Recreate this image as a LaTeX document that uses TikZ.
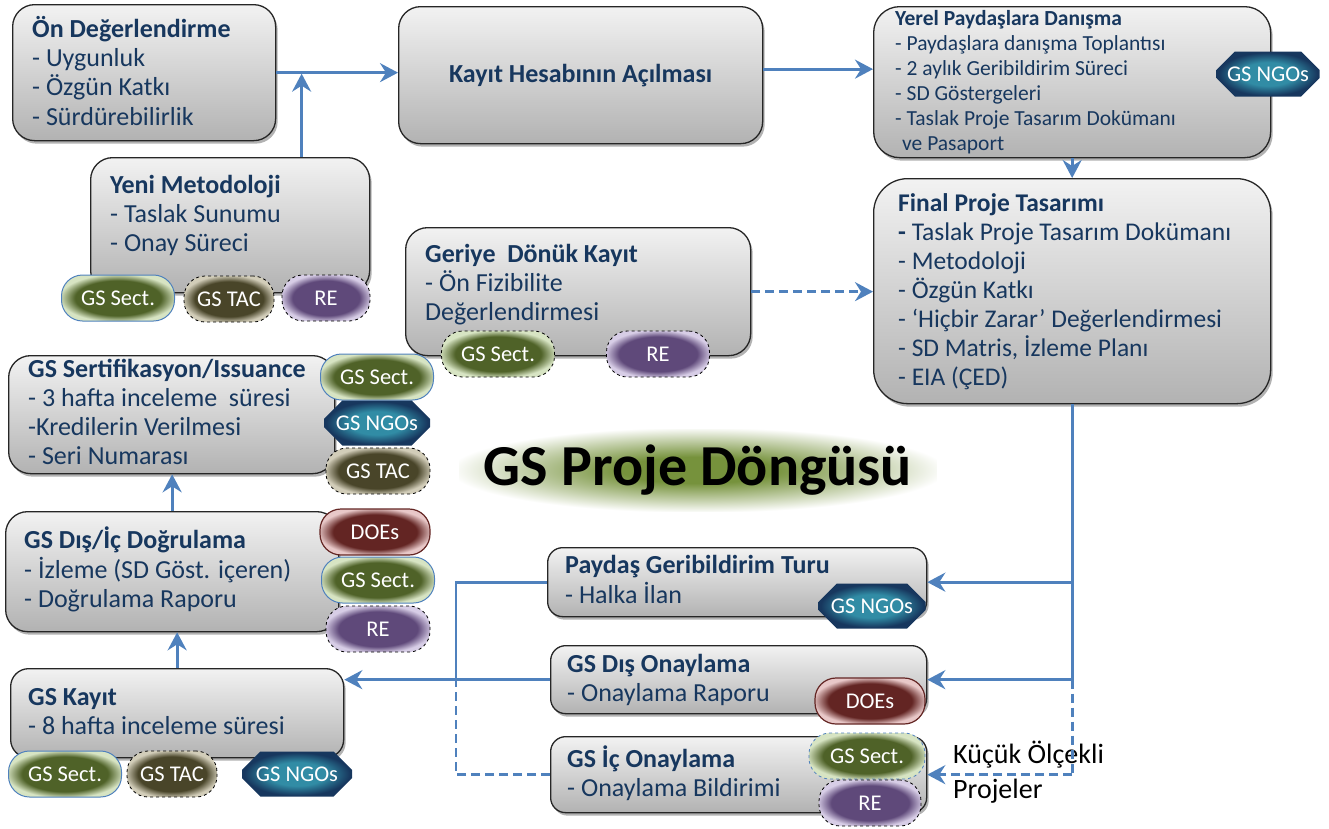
\documentclass[tikz,border=0pt]{standalone}
\usepackage{fontspec}
\setmainfont{Carlito}
\usetikzlibrary{arrows.meta,shadows,shapes.misc,calc}
\definecolor{navy}{RGB}{23,55,94}
\definecolor{arrblue}{RGB}{79,129,189}
\definecolor{boxtop}{RGB}{242,242,242}
\definecolor{boxbot}{RGB}{178,178,178}
\definecolor{sectc}{RGB}{79,98,40}
\definecolor{sectl}{RGB}{215,228,195}
\definecolor{tacc}{RGB}{73,69,41}
\definecolor{tacl}{RGB}{210,205,185}
\definecolor{rec}{RGB}{95,73,122}
\definecolor{rel}{RGB}{215,205,230}
\definecolor{doec}{RGB}{99,37,35}
\definecolor{doel}{RGB}{232,200,200}
\definecolor{ngoc}{RGB}{49,140,165}
\definecolor{ngod}{RGB}{23,55,94}
\definecolor{glowc}{RGB}{118,146,60}
\pgfdeclareradialshading{sectsh}{\pgfpoint{0bp}{0bp}}{color(0bp)=(sectc); color(19bp)=(sectc); color(26bp)=(sectl); color(50bp)=(sectl)}
\pgfdeclareradialshading{tacsh}{\pgfpoint{0bp}{0bp}}{color(0bp)=(tacc); color(19bp)=(tacc); color(26bp)=(tacl); color(50bp)=(tacl)}
\pgfdeclareradialshading{resh}{\pgfpoint{0bp}{0bp}}{color(0bp)=(rec); color(19bp)=(rec); color(26bp)=(rel); color(50bp)=(rel)}
\pgfdeclareradialshading{doesh}{\pgfpoint{0bp}{0bp}}{color(0bp)=(doec); color(19bp)=(doec); color(26bp)=(doel); color(50bp)=(doel)}
\pgfdeclareradialshading{ngosh}{\pgfpoint{0bp}{0bp}}{color(0bp)=(ngoc); color(13bp)=(ngoc); color(24bp)=(ngod); color(50bp)=(ngod)}
\pgfdeclareradialshading{glowsh}{\pgfpoint{0bp}{0bp}}{color(0bp)=(glowc); color(8bp)=(glowc); color(19bp)=(glowc!40!white); color(26bp)=(white); color(50bp)=(white)}
\newcommand\lns[1]{\begin{tabular}[t]{@{}l@{}}#1\end{tabular}}
\tikzset{
  gbox/.style={draw=black!85, line width=1.3pt, rounded corners=22pt,
    top color=boxtop, bottom color=boxbot, anchor=north west, inner sep=0pt,
    drop shadow={shadow xshift=2pt, shadow yshift=-3pt, opacity=0.3, fill=black}},
  txt/.style={anchor=base west, inner sep=0pt, text=navy, font=\fontsize{26}{29.3}\selectfont},
  badge/.style={rounded corners=21pt, text=white, font=\fontsize{22.5}{25}\selectfont,
    inner sep=0pt, minimum height=46pt, shade},
  sect/.style={badge, shading=sectsh, minimum width=113pt, draw=arrblue, line width=1pt},
  sectd/.style={badge, shading=sectsh, minimum width=113pt, draw=black, dashed, line width=0.8pt},
  sectb/.style={badge, shading=sectsh, minimum width=116pt, draw=arrblue, dashed, line width=0.8pt},
  tac/.style={badge, shading=tacsh, minimum width=90pt, draw=black, dashed, line width=0.8pt},
  rebadge/.style={badge, shading=resh, minimum width=95pt, draw=black, dashed, line width=0.8pt},
  doe/.style={badge, shading=doesh, minimum width=110pt, draw=doec, line width=1.2pt},
  ngo/.style={chamfered rectangle, chamfered rectangle xsep=12pt, chamfered rectangle ysep=11pt,
    text=white, font=\fontsize{22.5}{25}\selectfont, inner sep=0pt, minimum width=106pt,
    minimum height=45pt, shade, shading=ngosh},
  arr/.style={draw=arrblue, line width=2.8pt, -{Stealth[length=18pt,width=19pt,inset=6pt]}},
  lnk/.style={draw=arrblue, line width=2.8pt},
  dlnk/.style={draw=arrblue, line width=2.8pt, dash pattern=on 9pt off 5pt},
}
\begin{document}
\begin{tikzpicture}[x=1pt,y=-1pt]
\useasboundingbox (0,0) rectangle (1329,828);
% boxes
\node[gbox, minimum width=263pt, minimum height=136pt] (b1) at (12,4) {};
\node[gbox, minimum width=364pt, minimum height=137pt] (b2) at (398,6) {};
\node[gbox, minimum width=397pt, minimum height=151pt, rounded corners=26pt] (b3) at (873,6) {};
\node[gbox, minimum width=397pt, minimum height=225pt, rounded corners=34pt] (b4) at (873,178) {};
\node[gbox, minimum width=279pt, minimum height=135pt] (b5) at (90,157) {};
\node[gbox, minimum width=345pt, minimum height=128pt] (b6) at (405,227) {};
\node[gbox, minimum width=326pt, minimum height=118pt] (b7) at (8,355) {};
\node[gbox, minimum width=333pt, minimum height=120pt] (b8) at (5,511) {};
\node[gbox, minimum width=333pt, minimum height=89pt, rounded corners=18pt] (b9) at (10,668) {};
\node[gbox, minimum width=379pt, minimum height=69pt, rounded corners=15pt] (b10) at (547,547) {};
\node[gbox, minimum width=376pt, minimum height=68pt, rounded corners=15pt] (b11) at (550,645) {};
\node[gbox, minimum width=376pt, minimum height=76pt, rounded corners=15pt] (b12) at (550,736) {};
% title
\node[shade, shading=glowsh, minimum width=477pt, minimum height=82pt, inner sep=0pt,
  font=\fontsize{58}{64}\selectfont\bfseries, text=black] (title) at (698,470) {GS Proje Döngüsü};
% texts
\node[txt] (t1) at (32,37) {\lns{\textbf{Ön Değerlendirme}\\- Uygunluk\\- Özgün Katkı\\- Sürdürebilirlik}};
\node[txt, anchor=center, font=\fontsize{26}{29}\selectfont\bfseries] (t2) at (b2.center) {Kayıt Hesabının Açılması};
\node[txt, font=\fontsize{21.5}{25}\selectfont] (t3) at (895,25) {\lns{\textbf{Yerel Paydaşlara Danışma}\\- Paydaşlara danışma Toplantısı\\- 2 aylık Geribildirim Süreci\\- SD Göstergeleri\\- Taslak Proje Tasarım Dokümanı\\\hspace{7pt}ve Pasaport}};
\node[txt, font=\fontsize{25.5}{29}\selectfont] (t4) at (898,211) {\lns{\textbf{Final Proje Tasarımı}\\\textbf{-} Taslak Proje Tasarım Dokümanı\\- Metodoloji\\- Özgün Katkı\\- ‘Hiçbir Zarar’ Değerlendirmesi\\- SD Matris, İzleme Planı\\- EIA (ÇED)}};
\node[txt] (t5) at (110,193) {\lns{\textbf{Yeni Metodoloji}\\- Taslak Sunumu\\- Onay Süreci}};
\node[txt] (t6) at (425,262) {\lns{\textbf{Geriye\ \ Dönük Kayıt}\\- Ön Fizibilite\\Değerlendirmesi}};
\node[txt] (t7) at (28,377) {\lns{\textbf{GS Sertifikasyon/Issuance}\\- 3 hafta inceleme\ \ süresi\\-Kredilerin Verilmesi\\- Seri Numarası}};
\node[txt] (t8) at (24,548) {\lns{\textbf{GS Dış/İç Doğrulama}\\- İzleme (SD Göst. içeren)\\- Doğrulama Raporu}};
\node[txt] (t9) at (28,705) {\lns{\textbf{GS Kayıt}\\- 8 hafta inceleme süresi}};
\node[txt] (t10) at (565,573) {\lns{\textbf{Paydaş Geribildirim Turu}\\- Halka İlan}};
\node[txt] (t11) at (567,672) {\lns{\textbf{GS Dış Onaylama}\\- Onaylama Raporu}};
\node[txt] (t12) at (567,767) {\lns{\textbf{GS İç Onaylama}\\- Onaylama Bildirimi}};
\node[txt, text=black, font=\fontsize{28}{35}\selectfont] (t13) at (953,763) {\lns{Küçük Ölçekli\\Projeler}};
% connectors
\coordinate (yj) at ($(b5.north west)!0.755!(b5.north east)$);
\coordinate (lj) at (456,679);
\draw[arr] (b1.east) -- (b1.east -| b2.west);
\draw[arr, shorten >=1pt] (yj) -- (yj |- b1.east);
\draw[arr] ($(b2.east)+(0,-6)$) -- ($(b3.west)+(0,-13)$);
\draw[arr] (b3.south) -- (b4.north);
\draw[arr, dash pattern=on 9pt off 5pt] (b6.east) -- (b6.east -| b4.west);
\draw[lnk] (b4.south) -- (b4.south |- b11.east);
\draw[arr] (b4.south |- b10.east) -- (b10.east);
\draw[arr] (b4.south |- b11.east) -- (b11.east);
\draw[dlnk] (b4.south |- b11.east) -- (b4.south |- b12.east);
\draw[arr, dash pattern=on 9pt off 5pt] (b4.south |- b12.east) -- (b12.east);
\draw[lnk] (b10.west) -| (lj);
\draw[dlnk] (b12.west) -| (lj);
\draw[arr] (b11.west) -- (b11.west -| b9.east);
\draw[arr] (b9.north) -- (b9.north |- b8.south);
\draw[arr] (b8.north) -- (b8.north |- b7.south);
% badges
\node[sect] (s1) at (118,298) {GS Sect.};
\node[tac] (s2) at (229,299) {GS TAC};
\node[rebadge, minimum width=88pt] (s3) at (326,298) {RE};
\node[sectd] (s4) at (498,354) {GS Sect.};
\node[rebadge, minimum width=103pt] (s5) at (658,354) {RE};
\node[sect] (s6) at (377,377) {GS Sect.};
\node[ngo] (s7) at (377,423) {GS NGOs};
\node[tac, minimum width=104pt] (s8) at (378,471) {GS TAC};
\node[doe] (s9) at (375,532) {DOEs};
\node[sect] (s10) at (378,580) {GS Sect.};
\node[rebadge, minimum width=104pt] (s11) at (378,629) {RE};
\node[sect] (s12) at (65,774) {GS Sect.};
\node[tac] (s13) at (172,774) {GS TAC};
\node[ngo, minimum width=110pt] (s14) at (297,774) {GS NGOs};
\node[ngo, minimum width=103pt] (s15) at (1268,74) {GS NGOs};
\node[ngo, minimum width=107pt] (s16) at (872,606) {GS NGOs};
\node[doe] (s17) at (870,701) {DOEs};
\node[sectb] (s18) at (867,756) {GS Sect.};
\node[rebadge, minimum width=102pt] (s19) at (870,803) {RE};
\end{tikzpicture}
\end{document}
